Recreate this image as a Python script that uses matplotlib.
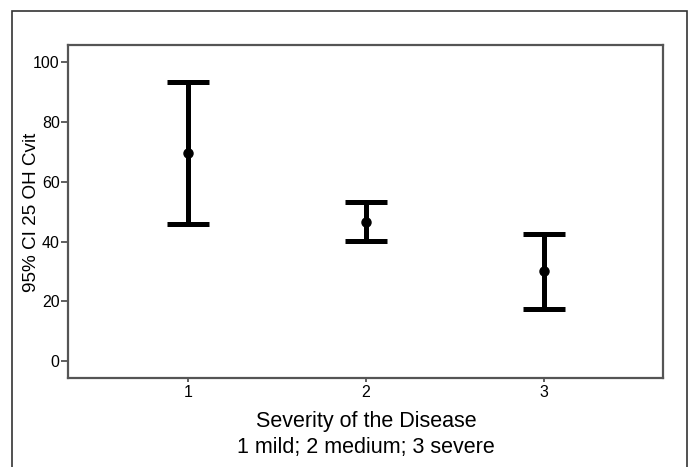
#!/usr/bin/env python3
"""Error bar chart: 95% CI of 25 OH Cvit by disease severity."""
import matplotlib.pyplot as plt
from matplotlib.patches import Rectangle

plt.rcParams["font.family"] = ["Liberation Sans", "DejaVu Sans"]

# severity groups with mean and 95% CI bounds
severity = [1, 2, 3]
means = [69.8, 46.6, 30.1]
ci_low = [46.0, 40.2, 17.4]
ci_high = [93.5, 53.2, 42.4]

y_ticks = [0, 20, 40, 60, 80, 100]

W, H = 691, 467
fig = plt.figure(figsize=(W / 100, H / 100), dpi=100)

# outer frame around the figure (open at the bottom edge)
fig.patches.append(Rectangle((12 / W, -0.05), 675 / W, 1.05 - 11 / H,
                             transform=fig.transFigure, fill=False,
                             edgecolor="#333333", linewidth=1.2))

ax = fig.add_axes([68 / W, 1 - 377.7 / H, (663 - 68) / W, (377.7 - 44.7) / H])

err_lo = [m - lo for m, lo in zip(means, ci_low)]
err_hi = [hi - m for m, hi in zip(means, ci_high)]
ax.errorbar(severity, means, yerr=[err_lo, err_hi], fmt="o", color="black",
            markersize=6.5, elinewidth=3.6, capsize=15, capthick=3.6)

ax.set_xlim(0.326, 3.669)
ax.set_ylim(-5.6, 105.9)
ax.set_xticks(severity)
ax.set_yticks(y_ticks)
ax.tick_params(labelsize=11.5, width=1.2, color="#444444")
ax.tick_params(axis="y", length=5, pad=1)
ax.tick_params(axis="x", length=3, pad=2)
for s in ax.spines.values():
    s.set_color("#555555")
    s.set_linewidth(1.6)

fig.text(366 / W, 1 - 421 / H, "Severity of the Disease", ha="center",
         va="center", fontsize=15.5)
fig.text(366 / W, 1 - 447 / H, "1 mild; 2 medium; 3 severe", ha="center",
         va="center", fontsize=15.5)
fig.text(32 / W, 1 - 212 / H, "95% CI 25 OH Cvit", ha="center", va="center",
         rotation=90, fontsize=13.6)

fig.savefig("out.png", dpi=100)
